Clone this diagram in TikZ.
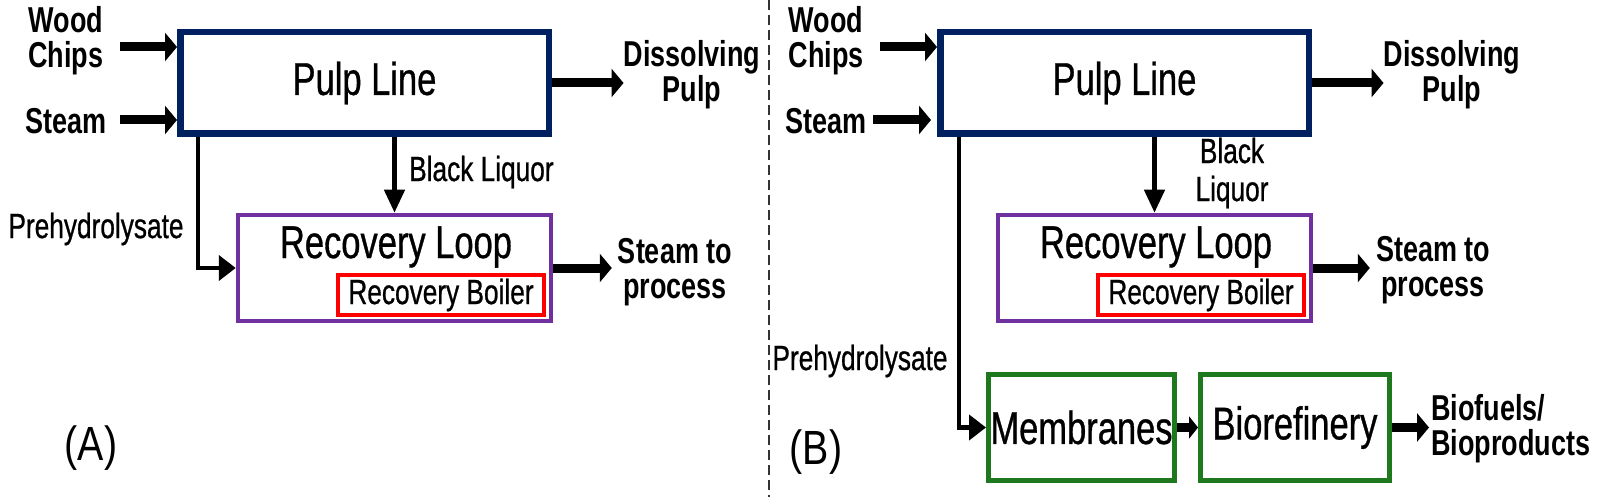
\documentclass[tikz,border=0pt]{standalone}
\usepackage{fontspec}
\setmainfont{Liberation Sans}[FakeStretch=0.75, UprightFeatures={FakeBold=0.7}]
\newfontfamily\panelfont{Liberation Sans}[FakeStretch=0.82]
\usetikzlibrary{arrows.meta}
\definecolor{navyc}{RGB}{0,32,96}
\definecolor{purplec}{RGB}{112,48,160}
\definecolor{greenc}{RGB}{30,120,30}
\definecolor{redc}{RGB}{255,0,0}
\begin{document}
\begin{tikzpicture}[x=1pt,y=-1pt,
  lbl/.style={font=\bfseries\fontsize{36}{35}\selectfont, align=center, inner sep=0pt},
  reg/.style={font=\fontsize{35}{38}\selectfont, align=center, inner sep=0pt},
  ttl/.style={font=\fontsize{46}{48}\selectfont, inner sep=0pt},
  panel/.style={font=\panelfont\fontsize{48}{50}\selectfont, inner sep=0pt},
  pulpbox/.style={draw=navyc, line width=6.5pt, minimum width=368.5pt, minimum height=101.5pt, font=\fontsize{46}{48}\selectfont, inner sep=0pt},
  recbox/.style={draw=purplec, line width=4.5pt, minimum width=313pt, minimum height=106pt, inner sep=0pt},
  boilerbox/.style={draw=redc, line width=3.5pt, minimum width=206pt, minimum height=40pt, font=\fontsize{35}{36}\selectfont, inner sep=0pt},
  greenbox/.style={draw=greenc, line width=5pt, minimum width=186pt, minimum height=106pt, font=\fontsize{46}{48}\selectfont, inner sep=0pt},
  bigarrow/.style={line width=9pt, -{Triangle[width=28pt,length=12pt]}},
  medarrow/.style={line width=9pt, -{Triangle[width=22pt,length=9pt]}},
  thinarrow/.style={line width=4.5pt, -{Triangle[width=20pt,length=23pt]}},
  pharrow/.style={line width=4.5pt, -{Triangle[width=25pt,length=17pt]}},
  divider/.style={line width=1.2pt, black!80, dash pattern=on 10pt off 5pt}
]
\useasboundingbox (0,0) rectangle (1600,497);

% ---------- Panel A ----------
\node[pulpbox] (pulpA) at (364.5,83) {Pulp Line};
\node[recbox] (recA) at (394.5,268) {};
\node[ttl] (recAt) at (396,247) {Recovery Loop};
\node[boilerbox] (boilA) at (441,295) {Recovery Boiler};

\node[lbl] (wcA) at (66,41) {Wood\\Chips};
\node[lbl] (stA) at (66,121) {Steam};
\node[lbl] (dpA) at (692,75) {Dissolving\\Pulp};
\node[lbl] (stpA) at (675,272) {Steam to\\process};
\node[reg, anchor=west] (blA) at (409,172) {Black Liquor};
\node[reg] (phA) at (96,229) {Prehydrolysate};
\node[panel] (labA) at (91,448) {(A)};

\coordinate (wA) at (120,47);
\coordinate (sA) at (120,120);
\draw[bigarrow] (wA) -- (wA -| pulpA.west);
\draw[bigarrow] (sA) -- (sA -| pulpA.west);
\draw[bigarrow] (pulpA.east) -- (pulpA.east -| dpA.west);
\draw[bigarrow, shorten >=6pt] (recA.east) -- (recA.east -| stpA.west);
\draw[thinarrow] (pulpA.south -| recA.north) -- (recA.north);
\draw[pharrow] ([xshift=21pt]pulpA.south west) |- (recA.west);

% ---------- divider ----------
\coordinate (dtop) at (769,0);
\coordinate (dbot) at (769,497);
\draw[divider] (dtop) -- (dbot);

% ---------- Panel B ----------
\node[pulpbox] (pulpB) at (1124.5,83) {Pulp Line};
\node[recbox] (recB) at (1154.5,268) {};
\node[ttl] (recBt) at (1156,247) {Recovery Loop};
\node[boilerbox] (boilB) at (1201,295) {Recovery Boiler};
\node[greenbox] (memB) at (1081.5,427.5) {Membranes};
\node[greenbox, minimum width=189pt] (brB) at (1295,427.5) {Biorefinery};

\node[lbl] (wcB) at (826,41) {Wood\\Chips};
\node[lbl] (stB) at (826,121) {Steam};
\node[lbl] (dpB) at (1452,75) {Dissolving\\Pulp};
\node[lbl] (stpB) at (1433,270) {Steam to\\process};
\node[reg] (blB) at (1232,173) {Black\\Liquor};
\node[reg] (phB) at (860,361) {Prehydrolysate};
\node[lbl, align=left, anchor=west] (bfB) at (1431,429) {Biofuels/\\Bioproducts};
\node[panel] (labB) at (816,452) {(B)};

\coordinate (wB) at (880,47);
\coordinate (sB) at (873,120);
\draw[bigarrow] (wB) -- (wB -| pulpB.west);
\draw[bigarrow, shorten >=6pt] (sB) -- (sB -| pulpB.west);
\draw[bigarrow] (pulpB.east) -- (pulpB.east -| dpB.west);
\draw[bigarrow, shorten >=6pt] (recB.east) -- (recB.east -| stpB.west);
\draw[thinarrow] (pulpB.south -| recB.north) -- (recB.north);
\draw[pharrow] ([xshift=22pt]pulpB.south west) |- (memB.west);
\draw[medarrow] (memB.east) -- (brB.west);
\draw[bigarrow, shorten >=2pt] (brB.east) -- (brB.east -| bfB.west);
\end{tikzpicture}
\end{document}
